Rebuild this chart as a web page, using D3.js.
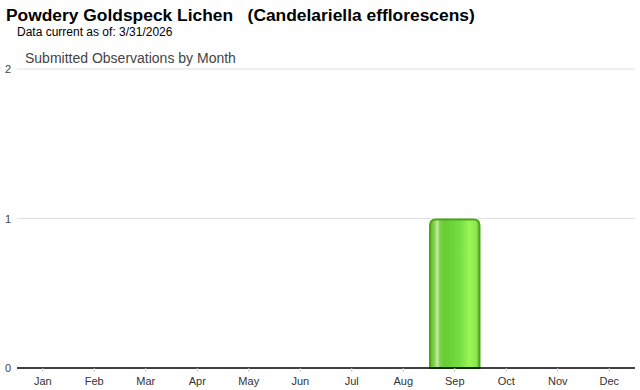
<!DOCTYPE html>
<html>
<head>
<meta charset="utf-8">
<script src="https://cdn.jsdelivr.net/npm/d3@7"></script>
<style>
  body { margin: 0; background: #fff; }
  svg { font-family: Arial, "Liberation Sans", sans-serif; }
</style>
</head>
<body>
<svg width="640" height="390"></svg>
<script>
"use strict";

const months = ["Jan", "Feb", "Mar", "Apr", "May", "Jun", "Jul", "Aug", "Sep", "Oct", "Nov", "Dec"];
const counts = [0, 0, 0, 0, 0, 0, 0, 0, 1, 0, 0, 0];
const yTicks = [0, 1, 2];

const svg = d3.select("svg");

const plotLeft = 17, plotRight = 635, plotTop = 69, plotBottom = 368;

// titles
svg.append("text").attr("x", 6).attr("y", 21)
    .attr("xml:space", "preserve")
    .style("font-size", "17.4px").style("font-weight", "bold").attr("fill", "#000")
    .text("Powdery Goldspeck Lichen   (Candelariella efflorescens)");
svg.append("text").attr("x", 17).attr("y", 36)
    .style("font-size", "12px").attr("fill", "#000")
    .text("Data current as of: 3/31/2026");
svg.append("text").attr("x", 25).attr("y", 63)
    .attr("fill", "#444")
    .style("font-size", "14px")
    .text("Submitted Observations by Month");

const xScale = d3.scaleBand()
    .domain(months)
    .range([plotLeft, plotRight])
    .padding(0);

const yScale = d3.scaleLinear()
    .domain([0, 2])
    .range([plotBottom, plotTop]);

// gridlines
svg.selectAll(".grid")
    .data(yTicks.filter(d => d > 0))
    .enter().append("line")
    .attr("class", "grid")
    .attr("x1", plotLeft).attr("x2", plotRight)
    .attr("y1", d => yScale(d)).attr("y2", d => yScale(d))
    .attr("stroke", "#e0e0e0").attr("stroke-width", 1);

svg.selectAll(".ylabel")
    .data(yTicks)
    .enter().append("text")
    .attr("class", "ylabel")
    .attr("x", 8)
    .attr("y", d => yScale(d) + 4)
    .attr("text-anchor", "middle")
    .style("font-size", "11px")
    .attr("fill", "#444")
    .text(d => d);

// bar gradient
const defs = svg.append("defs");
const grad = defs.append("linearGradient").attr("id", "barGrad")
    .attr("x1", "0%").attr("x2", "100%").attr("y1", "0%").attr("y2", "0%");
[
    [0, "#5cb82a"], [0.08, "#7fd14a"], [0.15, "#c4eaa6"], [0.2, "#7fd14a"],
    [0.3, "#66cc33"], [0.6, "#77dd44"], [0.8, "#99f555"], [0.93, "#8ee84f"], [1, "#5cb82a"]
].forEach(s => grad.append("stop").attr("offset", s[0]).attr("stop-color", s[1]));

const barData = months.map((m, i) => [m, counts[i]]).filter(d => d[1] > 0);

svg.selectAll(".bar")
    .data(barData)
    .enter().append("path")
    .attr("class", "bar")
    .attr("d", d => {
        const x0 = xScale(d[0]) + 1, x1 = xScale(d[0]) + xScale.bandwidth() - 1;
        const y0 = yScale(d[1]) + 1, y1 = yScale(0);
        const r = 6;
        return `M${x0},${y1} L${x0},${y0 + r} Q${x0},${y0} ${x0 + r},${y0} L${x1 - r},${y0} Q${x1},${y0} ${x1},${y0 + r} L${x1},${y1} Z`;
    })
    .attr("fill", "url(#barGrad)")
    .attr("stroke", "#4aa815")
    .attr("stroke-width", 2);

// axis
svg.append("line")
    .attr("x1", plotLeft).attr("x2", plotRight)
    .attr("y1", plotBottom).attr("y2", plotBottom)
    .attr("stroke", "#000").attr("stroke-width", 1.5);

svg.selectAll(".tick")
    .data(months)
    .enter().append("line")
    .attr("class", "tick")
    .attr("x1", d => xScale(d) + xScale.bandwidth() / 2)
    .attr("x2", d => xScale(d) + xScale.bandwidth() / 2)
    .attr("y1", plotBottom).attr("y2", plotBottom + 4)
    .attr("stroke", "#ccc");

svg.selectAll(".xlabel")
    .data(months)
    .enter().append("text")
    .attr("class", "xlabel")
    .attr("x", d => xScale(d) + xScale.bandwidth() / 2)
    .attr("y", 385)
    .attr("text-anchor", "middle")
    .style("font-size", "11px")
    .attr("fill", "#333")
    .text(d => d);
</script>
</body>
</html>
